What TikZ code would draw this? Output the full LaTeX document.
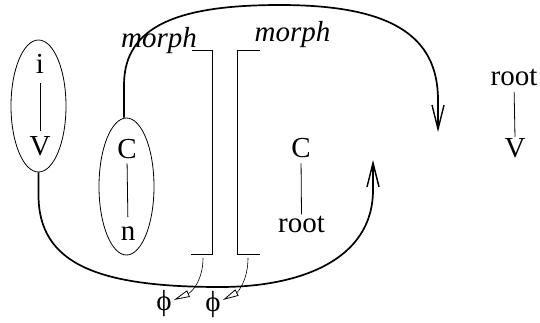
\documentclass[tikz,border=0pt]{standalone}
\usepackage{fontspec}
\setmainfont{Liberation Serif}
\usetikzlibrary{arrows.meta,shapes.geometric}
\begin{document}
\begin{tikzpicture}[x=1pt,y=-1pt,
  lbl/.style={inner sep=0pt, anchor=base, font=\fontsize{29}{32}\selectfont},
  mlbl/.style={inner sep=0pt, anchor=base, font=\fontsize{29}{32}\selectfont\itshape},
  phil/.style={inner sep=2pt, font=\fontsize{29}{32}\selectfont},
  oval/.style={draw, ellipse, line width=0.8pt, inner sep=0pt, minimum width=55pt},
  thinline/.style={line width=0.8pt},
  bigarrow/.style={line width=1.7pt, -{Straight Barb[length=24pt,width=12pt,line width=1.4pt]}},
  smallarrow/.style={line width=0.6pt, -{Triangle[open,length=16pt,width=7pt,line width=0.8pt]}}]
\useasboundingbox (0,0) rectangle (540,322);
% left ellipse
\node[oval, minimum height=132pt] (e1) at (38.5,106) {};
\node[lbl] (i) at (40,73) {i};
\node[lbl] (V1) at (40,155) {V};
\draw[thinline, shorten <=10pt, shorten >=5pt] (i.south) -- (V1.north);
% second ellipse
\node[oval, minimum height=137pt] (e2) at (126.5,186.5) {};
\node[lbl] (C1) at (127,158) {C};
\node[lbl] (n) at (128,240) {n};
\draw[thinline, shorten <=5pt, shorten >=9pt] (C1.south) -- (n.north);
% morph labels and brackets
\node[mlbl] (m1) at (159,47) {morph};
\node[mlbl] (m2) at (292.5,41) {morph};
\coordinate (b1a) at (192,50);
\coordinate (b1b) at (212,50);
\coordinate (b1c) at (212,254);
\coordinate (b1d) at (191,254);
\coordinate (b2a) at (260,50);
\coordinate (b2b) at (237,50);
\coordinate (b2c) at (237,254);
\coordinate (b2d) at (260,254);
\draw[thinline] (b1a) -- (b1b) -- (b1c) -- (b1d);
\draw[thinline] (b2a) -- (b2b) -- (b2c) -- (b2d);
% phi
\node[phil] (phi1) at (164,304) {ϕ};
\node[phil] (phi2) at (213,305) {ϕ};
\coordinate (s1) at (203,258);
\coordinate (s2) at (248,258);
\draw[smallarrow] (s1) .. controls (203,280) and (192,292) .. ([yshift=4pt]phi1.east);
\draw[smallarrow] (s2) .. controls (248,280) and (238,292) .. ([yshift=5pt]phi2.east);
% middle C - root
\node[lbl] (C2) at (301,157) {C};
\node[lbl] (r1) at (301.5,232) {root};
\draw[thinline, shorten <=6pt, shorten >=1pt] (C2.south) -- (r1.north);
% right root - V
\node[lbl] (r2) at (514,85) {root};
\node[lbl] (V2) at (515,157) {V};
\draw[thinline, shorten <=7pt, shorten >=1pt] (r2.south) -- (V2.north);
% big curves
\coordinate (tipT) at (438,132);
\coordinate (tipB) at (373,160);
\draw[bigarrow] ([xshift=-2.5pt]e2.north) -- (124,85) .. controls (124,25) and (180,5) .. (280,5) .. controls (390,5) and (438,35) .. (438,100) -- (tipT);
\draw[bigarrow] (e1.south) -- (38.5,195) .. controls (38.5,265) and (100,287) .. (220,287) .. controls (300,287) and (373,260) .. (373,190) -- (tipB);
\end{tikzpicture}
\end{document}
